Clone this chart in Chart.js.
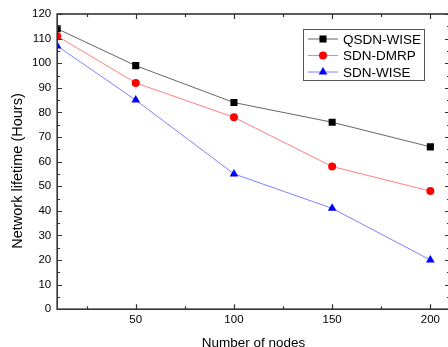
<!DOCTYPE html>
<html>
<head>
<meta charset="utf-8">
<script src="https://cdn.jsdelivr.net/npm/chart.js@4"></script>
<style>
html, body { margin: 0; padding: 0; background: #fff; overflow: hidden; }
#wrap { width: 455px; height: 347px; }
</style>
</head>
<body>
<div id="wrap"><canvas id="chart"></canvas></div>
<script>
// data
const nodes = [10, 50, 100, 150, 200];
const qsdnWise = [114, 99, 84, 76, 66];
const sdnDmrp = [111, 92, 78, 58, 48];
const sdnWise = [107, 85, 55, 41, 20];

const xTicks = [50, 100, 150, 200];
const xMinor = [25, 75, 125, 175];
const yTicks = [0, 10, 20, 30, 40, 50, 60, 70, 80, 90, 100, 110, 120];
const yMinor = [5, 15, 25, 35, 45, 55, 65, 75, 85, 95, 105, 115];

const yTitle = 'Network lifetime (Hours)';
const FONT = "'Liberation Sans', Arial, sans-serif";

function pts(ys) {
    return nodes.map((x, i) => ({ x: x, y: ys[i] }));
}

// inward ticks on all four sides + frame
const framePlugin = {
    id: 'frame',
    afterDatasetsDraw(chart) {
        const ctx = chart.ctx;
        const a = chart.chartArea;
        const xs = chart.scales.x;
        const ys = chart.scales.y;
        ctx.save();
        ctx.strokeStyle = '#333';
        ctx.lineWidth = 1.2;
        ctx.beginPath();
        const tick = (vals, len) => {
            vals.forEach(v => {
                const px = Math.round(xs.getPixelForValue(v)) + 0.5;
                ctx.moveTo(px, a.bottom); ctx.lineTo(px, a.bottom - len);
                ctx.moveTo(px, a.top); ctx.lineTo(px, a.top + len);
            });
        };
        const ytick = (vals, len) => {
            vals.forEach(v => {
                const py = Math.round(ys.getPixelForValue(v)) + 0.5;
                ctx.moveTo(a.left, py); ctx.lineTo(a.left + len, py);
                ctx.moveTo(a.right, py); ctx.lineTo(a.right - len, py);
            });
        };
        tick(xTicks, 5);
        tick(xMinor, 3);
        ytick(yTicks, 5);
        ytick(yMinor, 3);
        ctx.stroke();
        ctx.lineWidth = 1.6;
        ctx.strokeRect(a.left, a.top, a.right - a.left, a.bottom - a.top);

        // y title, sits a bit below the axis middle in the original
        ctx.translate(18, 171);
        ctx.rotate(-Math.PI / 2);
        ctx.fillStyle = '#000';
        ctx.font = '14.5px ' + FONT;
        ctx.textAlign = 'center';
        ctx.textBaseline = 'middle';
        ctx.fillText(yTitle, 0, 0);
        ctx.restore();
    }
};

// boxed legend inside the plot, upper right
const legendPlugin = {
    id: 'boxLegend',
    afterDraw(chart) {
        const ctx = chart.ctx;
        const bx = 303, by = 29, bw = 121, bh = 51;
        ctx.save();
        ctx.fillStyle = '#fff';
        ctx.fillRect(bx, by, bw, bh);
        ctx.strokeStyle = '#555';
        ctx.lineWidth = 1;
        ctx.strokeRect(bx + 0.5, by + 0.5, bw, bh);
        ctx.font = '13.5px ' + FONT;
        ctx.textBaseline = 'middle';
        chart.data.datasets.forEach((ds, i) => {
            const y = by + 10 + i * 16.5;
            ctx.strokeStyle = ds.borderColor;
            ctx.lineWidth = 1;
            ctx.beginPath();
            ctx.moveTo(bx + 5, y); ctx.lineTo(bx + 35, y);
            ctx.stroke();
            ctx.fillStyle = ds.pointBackgroundColor;
            Chart.helpers.drawPoint(ctx, {
                pointStyle: ds.pointStyle, rotation: 0, radius: ds.pointRadius, borderWidth: 0
            }, bx + 20, y);
            ctx.fillStyle = '#000';
            ctx.fillText(ds.label, bx + 40, y + 1);
        });
        ctx.restore();
    }
};

new Chart(document.getElementById('chart'), {
    type: 'line',
    data: {
        datasets: [
            {
                label: 'QSDN-WISE',
                data: pts(qsdnWise),
                borderColor: '#666',
                borderWidth: 1,
                pointStyle: 'rect',
                pointRadius: 5,
                pointBackgroundColor: '#000',
                pointBorderColor: '#000',
                pointBorderWidth: 0
            },
            {
                label: 'SDN-DMRP',
                data: pts(sdnDmrp),
                borderColor: '#ff8080',
                borderWidth: 1,
                pointStyle: 'circle',
                pointRadius: 4,
                pointBackgroundColor: '#f00',
                pointBorderColor: '#f00',
                pointBorderWidth: 0
            },
            {
                label: 'SDN-WISE',
                data: pts(sdnWise),
                borderColor: '#8080ff',
                borderWidth: 1,
                pointStyle: 'triangle',
                pointRadius: 5,
                pointBackgroundColor: '#00f',
                pointBorderColor: '#00f',
                pointBorderWidth: 0
            }
        ]
    },
    options: {
        responsive: true,
        maintainAspectRatio: false,
        animation: false,
        layout: { padding: { left: 26, top: 14, right: 0, bottom: -3.5 } },
        plugins: { legend: { display: false }, tooltip: { enabled: false } },
        scales: {
            x: {
                type: 'linear',
                min: 10,
                max: 210,
                afterBuildTicks: s => { s.ticks = xTicks.map(v => ({ value: v })); },
                grid: { display: false, drawTicks: false },
                border: { display: false },
                ticks: { color: '#000', font: { family: FONT, size: 11.5 }, padding: 4, maxRotation: 0 },
                title: { display: true, text: 'Number of nodes', color: '#000', font: { family: FONT, size: 13.5, lineHeight: 1 }, padding: { top: 6, bottom: 0 } }
            },
            y: {
                min: 0,
                max: 120,
                afterBuildTicks: s => { s.ticks = yTicks.map(v => ({ value: v })); },
                grid: { display: false, drawTicks: false },
                border: { display: false },
                ticks: { color: '#000', font: { family: FONT, size: 11.5 }, padding: 6 },
                title: { display: false }
            }
        }
    },
    plugins: [framePlugin, legendPlugin]
});
</script>
</body>
</html>
